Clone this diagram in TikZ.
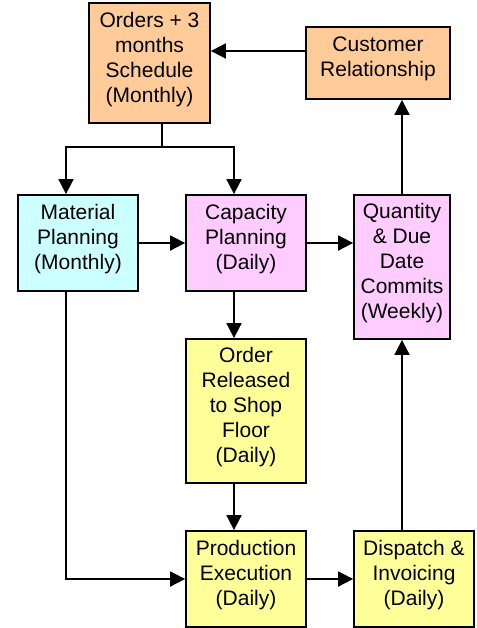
\documentclass[tikz,border=0pt]{standalone}
\usepackage{fontspec}
\setmainfont{Liberation Sans}
\usetikzlibrary{arrows.meta}
\definecolor{peach}{HTML}{FFCC99}
\definecolor{lightcyan}{HTML}{CCFFFF}
\definecolor{lightpink}{HTML}{FFCCFF}
\definecolor{lightyellow}{HTML}{FFFF99}

\begin{document}
\begin{tikzpicture}[x=1pt,y=-1pt,>={Triangle[length=15pt,width=15pt]},line width=1.8pt]
                            \useasboundingbox (0,0) rectangle (476,628);
                            \begin{scope}[every node/.style={rectangle,draw=black,line width=1.8pt,align=center,inner sep=1pt,text depth=12pt,font=\fontsize{21}{25}\selectfont,minimum width=120pt,minimum height=96pt}]
                                \node[fill=peach,minimum width=121pt,minimum height=120pt] (O) at (149.5,63) {Orders + 3\\months\\Schedule\\(Monthly)};
                                \node[fill=peach,minimum width=144pt,minimum height=72pt] (C) at (378,63) {Customer\\Relationship};
                                \node[fill=lightcyan] (M) at (78,243) {Material\\Planning\\(Monthly)};
                                \node[fill=lightpink] (P) at (246,243) {Capacity\\Planning\\(Daily)};
                                \node[fill=lightpink,minimum width=96pt,minimum height=144pt] (Q) at (402,267) {Quantity\\\& Due\\Date\\Commits\\(Weekly)};
                                \node[fill=lightyellow,minimum height=144pt] (R) at (246,411) {Order\\Released\\to Shop\\Floor\\(Daily)};
                                \node[fill=lightyellow] (E) at (246,579) {Production\\Execution\\(Daily)};
                                \node[fill=lightyellow] (D) at (414,579) {Dispatch \&\\Invoicing\\(Daily)};
                            \end{scope}
                            \coordinate (S) at (162,147);
                            \draw[->] ([yshift=12pt]C.west) -- ([yshift=12pt]O.east);
                            \draw (O.south -| S) -- (S);
                            \draw[->] (S) -| ([xshift=-12pt]M.north);
                            \draw[->] (S) -| ([xshift=-12pt]P.north);
                            \draw[->] (M) -- (P);
                            \draw[->] (P) -- (P -| Q.west);
                            \draw[->] (Q.north) -- (Q.north |- C.south);
                            \draw[->] ([xshift=-12pt]P.south) -- ([xshift=-12pt]R.north);
                            \draw[->] ([xshift=-12pt]R.south) -- ([xshift=-12pt]E.north);
                            \draw[->] ([xshift=-12pt]M.south) |- (E.west);
                            \draw[->] (E) -- (D);
                            \draw[->] (D.north -| Q.south) -- (Q.south);
                        \end{tikzpicture}
\end{document}
